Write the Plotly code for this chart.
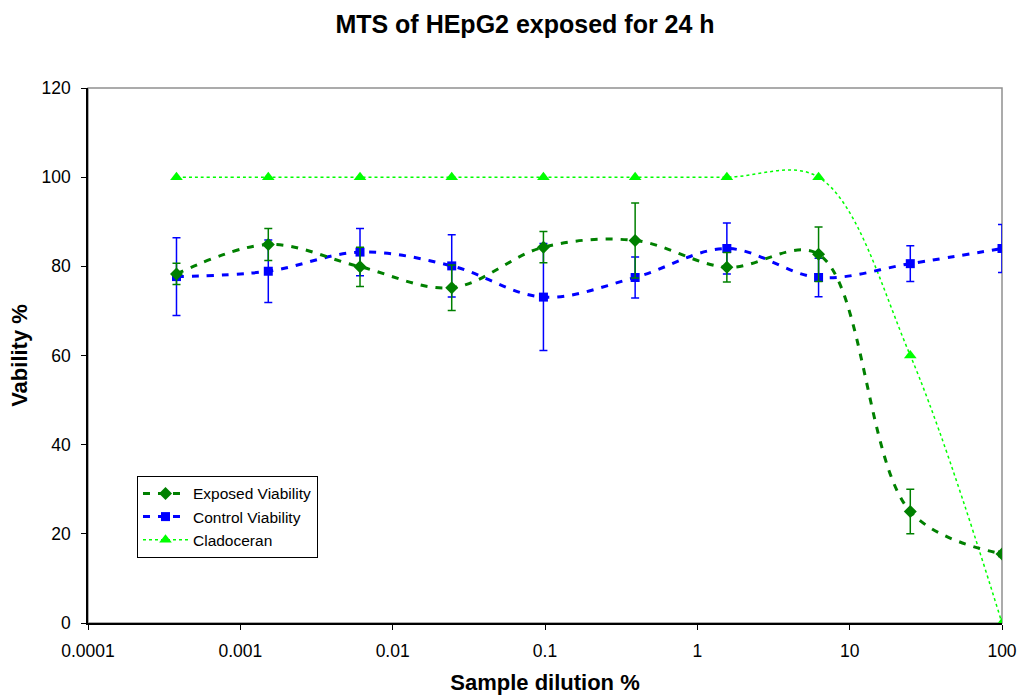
import plotly.graph_objects as go

dilution = [0.000381, 0.001526, 0.006104, 0.024414, 0.097656, 0.390625, 1.5625, 6.25, 25, 100]

exposed = [78.3, 84.9, 79.9, 75.2, 84.3, 85.8, 79.8, 82.7, 25.0, 15.5]
exposed_err = [2.4, 3.6, 4.4, 5.1, 3.5, 8.4, 3.3, 6.1, 5.0, 0.6]

control = [77.7, 78.9, 83.2, 80.1, 73.1, 77.5, 84.0, 77.5, 80.6, 84.0]
control_err = [8.7, 7.0, 5.3, 7.0, 12.0, 4.6, 5.7, 4.3, 4.0, 5.4]

cladoceran = [100, 100, 100, 100, 100, 100, 100, 100, 60, 0]

x_ticks = [0.0001, 0.001, 0.01, 0.1, 1, 10, 100]
x_ticktext = ["0.0001", "0.001", "0.01", "0.1", "1", "10", "100"]
y_ticks = [0, 20, 40, 60, 80, 100, 120]

FONT = "Liberation Sans, Arial, sans-serif"

fig = go.Figure()

fig.add_trace(go.Scatter(
    x=dilution, y=cladoceran, name="Cladoceran", mode="lines+markers",
    line=dict(color="#00FF00", width=1.5, dash="3px,3px", shape="spline", smoothing=1.0),
    marker=dict(symbol="triangle-up", size=11, color="#00FF00"),
))

fig.add_trace(go.Scatter(
    x=dilution, y=control, name="Control Viability", mode="lines+markers",
    line=dict(color="#0000FF", width=3, dash="7px,8px", shape="spline", smoothing=1.0),
    marker=dict(symbol="square", size=9, color="#0000FF"),
    error_y=dict(type="data", array=control_err, visible=True, color="#0000FF", thickness=1.5, width=4),
))

fig.add_trace(go.Scatter(
    x=dilution, y=exposed, name="Exposed Viability", mode="lines+markers",
    line=dict(color="#008000", width=3, dash="7px,8px", shape="spline", smoothing=1.0),
    marker=dict(symbol="diamond", size=10, color="#008000"),
    error_y=dict(type="data", array=exposed_err, visible=True, color="#008000", thickness=1.5, width=4),
))

fig.add_shape(type="rect", xref="paper", yref="paper", x0=0, y0=0, x1=1, y1=1,
              line=dict(color="#909090", width=1.5), layer="below")

fig.update_layout(
    width=1022, height=697,
    margin=dict(l=88, r=20, t=88, b=74, autoexpand=False),
    paper_bgcolor="white", plot_bgcolor="white",
    font=dict(family=FONT, size=17, color="black"),
    title=dict(text="<b>MTS of HEpG2 exposed for 24 h</b>", x=0.5137, xanchor="center",
               y=0.9656, yanchor="middle", font=dict(size=25, family=FONT)),
    showlegend=True,
    legend=dict(x=0.0536, y=0.275, xanchor="left", yanchor="top",
                bordercolor="black", borderwidth=1, bgcolor="white",
                font=dict(size=15.5, family=FONT), traceorder="reversed",
                tracegroupgap=0, itemwidth=45),
    xaxis=dict(type="log", range=[-4, 2], tickvals=x_ticks, ticktext=x_ticktext,
               showgrid=False, zeroline=False, showline=True, linecolor="black", linewidth=1.5,
               ticks="outside", ticklen=5, tickcolor="black", ticklabelstandoff=6,
               tickfont=dict(size=17.5, family=FONT),
               title=dict(text="<b>Sample dilution %</b>", font=dict(size=22, family=FONT), standoff=15)),
    yaxis=dict(range=[0, 120], tickvals=y_ticks,
               showgrid=False, zeroline=False, showline=True, linecolor="black", linewidth=1.5,
               ticks="outside", ticklen=5, tickcolor="black", ticklabelstandoff=7,
               tickfont=dict(size=17.5, family=FONT),
               title=dict(text="<b>Vability %</b>", font=dict(size=22, family=FONT), standoff=8)),
)

fig.write_html("out.html", config={"displayModeBar": False},
               post_script="document.body.style.margin='0';document.body.style.overflow='hidden';")
